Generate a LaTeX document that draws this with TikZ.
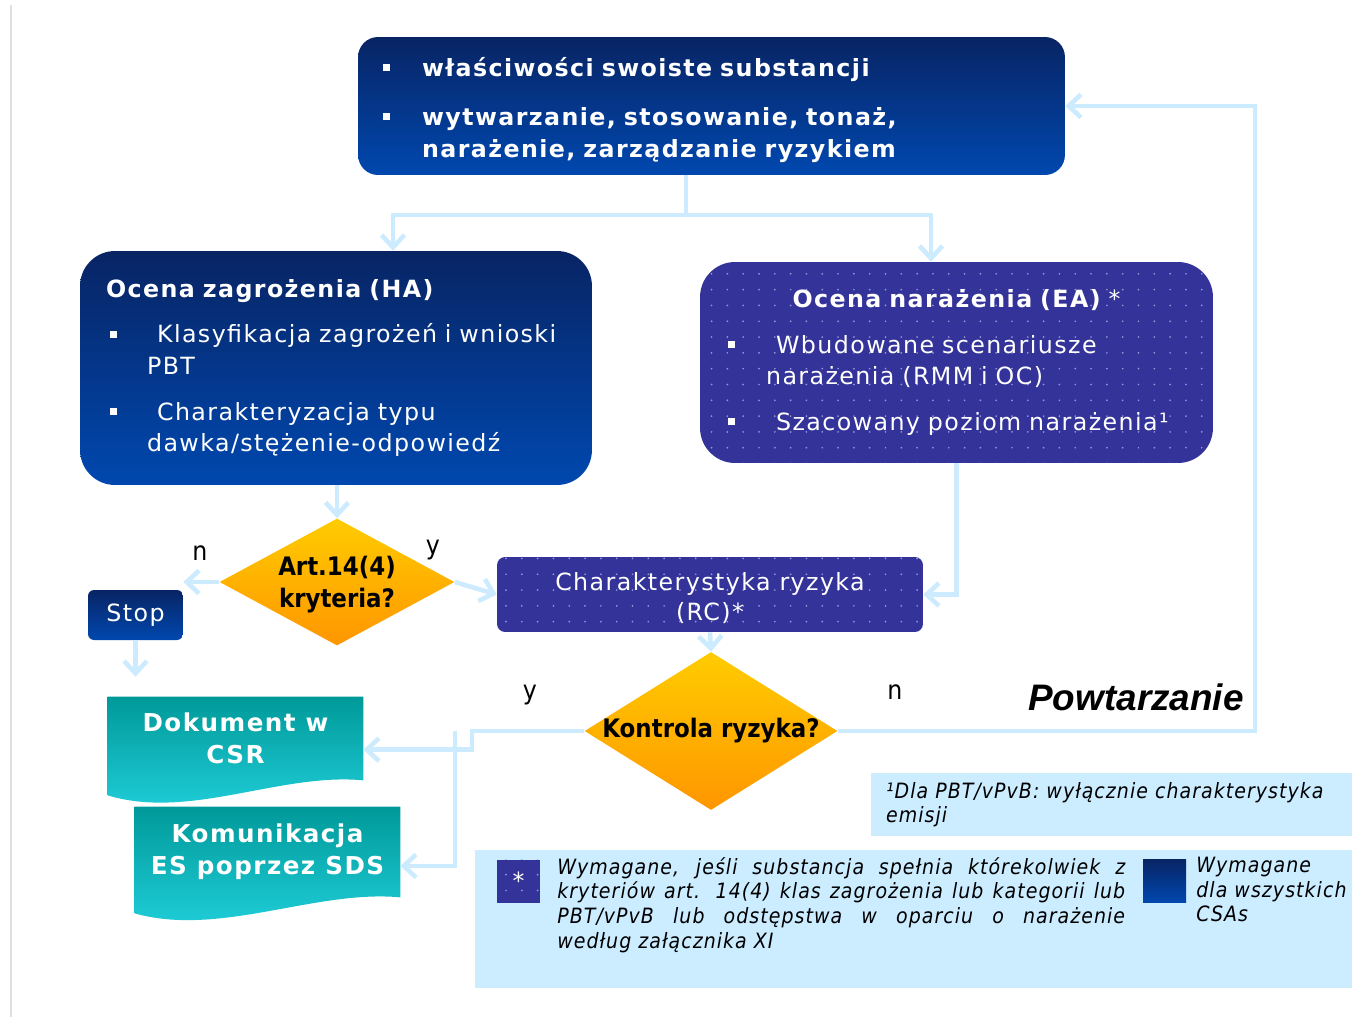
\documentclass[tikz,border=0pt]{standalone}
\usepackage{fontspec}
\setmainfont{DejaVu Sans}[LetterSpace=6]
\newfontfamily\condfont{DejaVu Sans Condensed}
\newfontfamily\legfont{DejaVu Sans Condensed}[LetterSpace=5]
\newfontfamily\arialfont{Liberation Sans}
\usetikzlibrary{arrows.meta,shapes.geometric,patterns.meta,backgrounds}
\definecolor{navytop}{RGB}{8,36,100}
\definecolor{navybot}{RGB}{0,72,175}
\definecolor{indigo}{RGB}{51,51,153}
\definecolor{dotcol}{RGB}{150,150,215}
\definecolor{tealtop}{RGB}{0,153,153}
\definecolor{tealbot}{RGB}{34,210,222}
\definecolor{ambtop}{RGB}{255,204,0}
\definecolor{ambbot}{RGB}{255,150,0}
\definecolor{flow}{RGB}{204,235,255}
\definecolor{note}{RGB}{204,236,255}
\newcommand\bul[1]{\makebox[#1][l]{\rule[0.22em]{4pt}{4pt}}}

\begin{document}
\begin{tikzpicture}[x=0.02cm,y=-0.02cm,>={Straight Barb[length=7pt,width=13pt]},font=\fontsize{13.5}{18}\selectfont]
\tikzstyle{navy}=[top color=navytop,bottom color=navybot,text=white,inner sep=0pt,align=left]
\tikzstyle{dotbox}=[fill=indigo,postaction={pattern={Dots[distance=9pt,radius=0.55pt]},pattern color=dotcol},text=white,inner sep=0pt]
\tikzstyle{dec}=[diamond,top color=ambtop,bottom color=ambbot,inner sep=0pt,align=center,font=\condfont\bfseries\fontsize{14.5}{18}\selectfont]
\tikzstyle{docu}=[inner sep=0pt,text=white,align=center,font=\bfseries\fontsize{14}{18}\selectfont]
\tikzstyle{flowline}=[draw=flow,line width=2.6pt]
\tikzstyle{lab}=[font=\condfont\fontsize{15}{18}\selectfont]
\tikzstyle{legtext}=[font=\legfont\itshape\fontsize{12}{14}\selectfont]
\begin{scope}[on background layer]
\fill[white] (0,0) rectangle (1356,1017);
\end{scope}
\useasboundingbox (0,0) rectangle (1356,1017);
\draw[black!12,line width=1pt] (11,5) -- (11,1017);
\node[navy,rounded corners=0.4cm,minimum width=14.14cm,minimum height=2.76cm,inner xsep=0.5cm,text width=13.14cm,font=\bfseries\fontsize{13.5}{18}\selectfont] (props) at (711.5,106) {\rule{0pt}{15pt}\bul{0.78cm}właściwości swoiste substancji\\[10pt]\bul{0.78cm}wytwarzanie, stosowanie, tonaż,\\\hspace*{0.78cm}narażenie, zarządzanie ryzykiem};
\node[navy,rounded corners=0.7cm,minimum width=10.24cm,minimum height=4.68cm,inner xsep=0.52cm,text width=9.2cm] (ha) at (336,368) {{\bfseries Ocena zagrożenia (HA)}\\[8pt]\hspace*{0.08cm}\bul{0.94cm}\mbox{Klasyfikacja zagrożeń i wnioski}\\\hspace*{0.82cm}PBT\\[8pt]\hspace*{0.08cm}\bul{0.94cm}Charakteryzacja typu\\\hspace*{0.82cm}dawka/stężenie-odpowiedź};
\node[dotbox,rounded corners=0.7cm,minimum width=10.26cm,minimum height=4.02cm,inner xsep=0.56cm,text width=9.14cm,align=left] (ea) at (956.5,362.5) {\makebox[9.14cm][c]{{\bfseries Ocena narażenia (EA)} *}\\[8pt]\bul{0.96cm}Wbudowane scenariusze\\\hspace*{0.76cm}narażenia (RMM i OC)\\[8pt]\bul{0.96cm}Szacowany poziom narażenia¹};
\node[dec,aspect=1.85,minimum width=4.7cm,minimum height=2.54cm] (art) at (337,582) {\rule{0pt}{14pt}Art.14(4)\\kryteria?};
\node[navy,rounded corners=0.12cm,minimum width=1.9cm,minimum height=1cm,align=center] (stop) at (135.5,615) {Stop};
\node[dotbox,rounded corners=0.16cm,minimum width=8.52cm,minimum height=1.5cm,align=center,font=\fontsize{13.5}{17}\selectfont] (rc) at (710,594.5) {\rule{0pt}{14pt}Charakterystyka ryzyka\\(RC)*};
\node[dec,aspect=1.6,inner sep=-2pt,minimum width=5.06cm,minimum height=3.16cm] (kr) at (711,731) {Kontrola ryzyka?};
\node[docu,minimum width=5.1cm,minimum height=1.66cm] (doc1) at (235.5,738.5) {Dokument w\\CSR};
\node[docu,minimum width=5.3cm,minimum height=1.8cm] (doc2) at (267.5,852) {Komunikacja\\ES poprzez SDS};
\begin{scope}[on background layer]
\shade[top color=tealtop,bottom color=tealbot] (doc1.north west) -- (doc1.north east) -- (doc1.south east) .. controls +(-83,-8) and +(82,25) .. ([yshift=-0.3cm]doc1.south west) -- cycle;
\shade[top color=tealtop,bottom color=tealbot] (doc2.north west) -- (doc2.north east) -- (doc2.south east) .. controls +(-85,-8) and +(85,24) .. ([yshift=-0.32cm]doc2.south west) -- cycle;
\end{scope}
\node[lab] (no1) at (200,553) {n};
\node[lab] (yes1) at (433,550) {y};
\node[lab] (yes2) at (530,695) {y};
\node[lab] (no2) at (895,692) {n};
\node[font=\arialfont\bfseries\itshape\fontsize{21}{25}\selectfont] (rep) at (1136,697) {Powtarzanie};
\node[fill=note,minimum width=9.62cm,minimum height=1.26cm,inner xsep=0.3cm,text width=9.02cm,align=left,legtext] (fn) at (1111.5,804.5) {¹Dla PBT/vPvB: wyłącznie charakterystyka\\emisji};
\node[fill=note,minimum width=17.54cm,minimum height=2.76cm] (legend) at (913.5,919) {};
\node[dotbox,minimum size=0.86cm] (keyrc) at (518.5,881) {*};
\node[navy,minimum size=0.86cm] (keyall) at (1164.5,881) {};
\node[anchor=north west,inner sep=0pt,align=left,legtext] (keytext) at (557,857) {\makebox[11.36cm][s]{Wymagane, jeśli substancja spełnia którekolwiek z}\\\makebox[11.36cm][s]{kryteriów art. 14(4) klas zagrożenia lub kategorii lub}\\\makebox[11.36cm][s]{PBT/vPvB lub odstępstwa w oparciu o narażenie}\\według załącznika XI};
\node[anchor=north west,inner sep=0pt,align=left,legtext] (keyalltext) at (1196,857) {Wymagane\\dla wszystkich\\CSAs};
\coordinate (split) at (686,215);
\coordinate (branch) at (455,731);
\coordinate (back) at (1255,731);
\draw[flowline] (props.south -| split) -- (split);
\draw[flowline,->] (split) -| ([xshift=1.14cm]ha.north);
\draw[flowline,->] (split) -| ([xshift=-0.51cm]ea.north);
\draw[flowline,->] (ha.south -| art.north) -- (art.north);
\draw[flowline,->] (art.west) -- (art.west -| stop.east);
\draw[flowline,->,shorten >=0.4cm] (stop.south) -- (stop.south |- doc1.north);
\draw[flowline,->] (art.east) -- (rc.west);
\draw[flowline,->] (ea.south) |- (rc.east);
\draw[flowline,->] (rc.south) -- (kr.north);
\draw[flowline,->] (kr.west) -- ++(-112,0) |- (doc1.-5);
\draw[flowline,->] (branch) |- (doc2.-6);
\draw[flowline,->] (kr.east) -- (back) |- (props.east);
\end{tikzpicture}
\end{document}
